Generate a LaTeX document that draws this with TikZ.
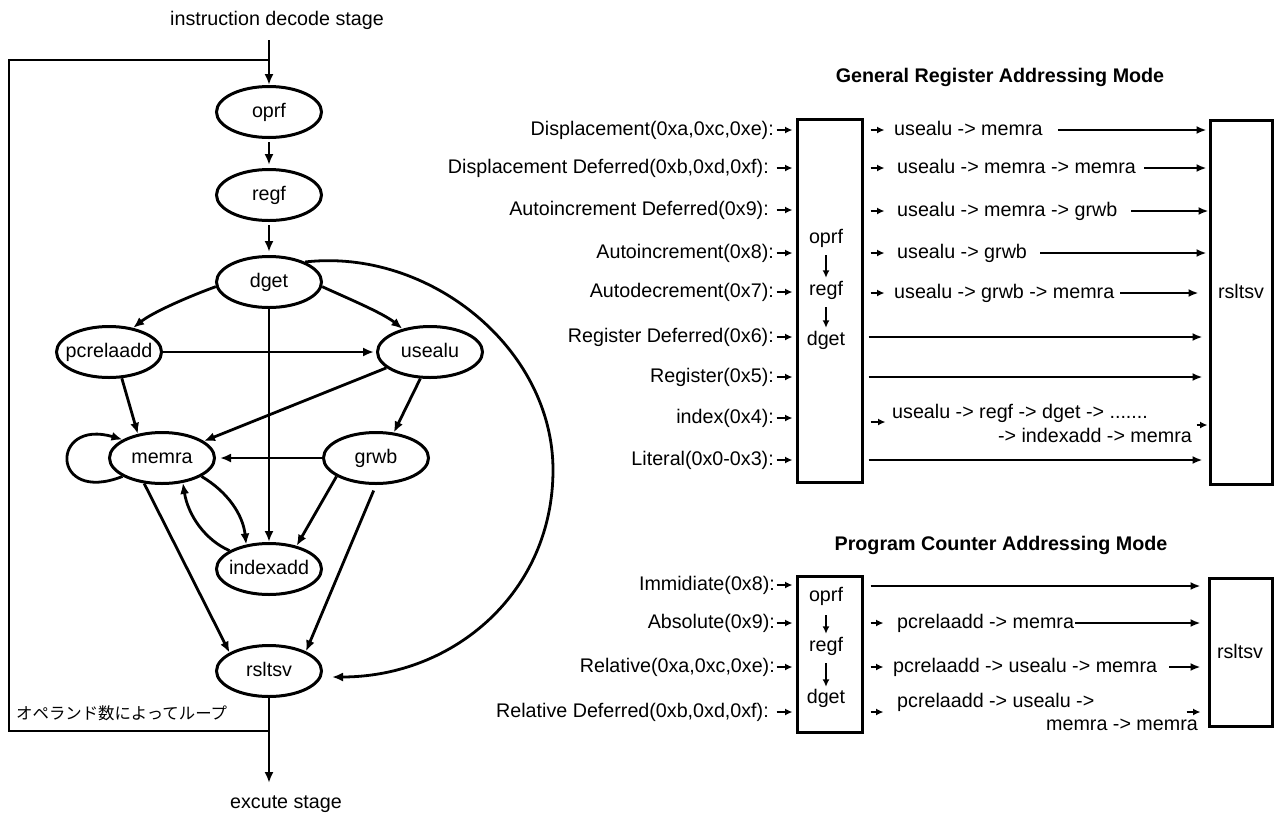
\documentclass[tikz,border=0pt]{standalone}
\usepackage{fontspec}
\setmainfont{Liberation Sans}
\newfontfamily\jpfont{Noto Sans CJK JP}
\usetikzlibrary{shapes.geometric,arrows.meta,calc}
\newcommand\mkz[1]{\makebox[0pt]{#1}}
\begin{document}
\begin{tikzpicture}[x=1pt,y=-1pt,
  txt/.style={inner sep=0pt, font=\fontsize{19.7}{22}\selectfont, text height=14pt, text depth=4pt},
  ttl/.style={inner sep=0pt, font=\bfseries\fontsize{19.7}{22}\selectfont},
  st/.style={txt, draw, ellipse, line width=3pt, minimum width=105pt, minimum height=51pt},
  ed/.style={line width=2.8pt, -{Latex[length=11pt,width=9pt]}},
  ln/.style={line width=2.8pt},
  sarr/.style={line width=2.6pt, -{Latex[length=7.5pt,width=7pt]}},
  larr/.style={line width=2.8pt, -{Latex[length=10pt,width=8pt]}},
  box/.style={draw, line width=3pt, inner sep=0pt}
]
\useasboundingbox (0,0) rectangle (1275,815);

% ---------------- left graph ----------------
\node[txt] (ids) at (277,20) {instruction decode stage};
\node[txt] (exs) at (286,803) {excute stage};
\coordinate (top) at (269,40);
\coordinate (lt) at (269,60);
\coordinate (ctl) at (9,60);
\coordinate (cbl) at (9,731);
\coordinate (lb) at (269,731);
\coordinate (bot) at (269,783);

\node[st] (oprf) at (269,112) {\mkz{oprf}};
\node[st] (regf) at (269,195) {\mkz{regf}};
\node[st] (dget) at (269,282) {\mkz{dget}};
\node[st] (pcrelaadd) at (109,352) {\mkz{pcrelaadd}};
\node[st] (usealu) at (430,352) {\mkz{usealu}};
\node[st] (memra) at (162,458) {\mkz{memra}};
\node[st] (grwb) at (376,458) {\mkz{grwb}};
\node[st] (indexadd) at (269,569) {\mkz{indexadd}};
\node[st] (rsltsv) at (269,671) {\mkz{rsltsv}};

\node[inner sep=0pt, anchor=west, font=\jpfont\fontsize{16.4}{18}\selectfont] (jp) at (16,713) {オペランド数によってループ};

\draw[ln] (lb) -- (cbl) -- (ctl) -- (lt);
\draw[ed] (top) -- (oprf);
\draw[ed, shorten <=3pt, shorten >=3pt] (oprf) -- (regf);
\draw[ed, shorten <=3pt, shorten >=3pt] (regf) -- (dget);
\draw[ed] (dget.185) .. controls (190,296) and (153,312) .. (pcrelaadd.45);
\draw[ed] (dget.-5) .. controls (347,298) and (383,313) .. (usealu.140);
\draw[ed] (dget) -- (indexadd);
\draw[ed, shorten >=2pt] (pcrelaadd) -- (usealu);
\draw[ed] (pcrelaadd.296) -- (memra.135);
\draw[ed] (usealu.200) -- (memra.22);
\draw[ed] (usealu.250) -- (grwb.55);
\draw[ed, shorten >=4pt] (grwb) -- (memra);
\draw[ed] (memra.205) .. controls (50,505) and (50,418) .. (memra.155);
\draw[ed] (memra.-25) .. controls (228,492) and (243,515) .. (indexadd.133);
\draw[ed] (indexadd.155) .. controls (205,540) and (188,515) .. (memra.-50);
\draw[ed] (grwb.205) -- (indexadd.40);
\draw[ed] (memra.235) -- (rsltsv.155);
\draw[ed, shorten <=6pt] (grwb.-90) -- (rsltsv.28);
\draw[ed] (dget.29) .. controls (429,248) and (553,348) .. (553,470)
  .. controls (553,592) and (454,677) .. ($(rsltsv.east)+(9,6)$);
\draw[ed] (rsltsv) -- (bot);

% ---------------- General Register Addressing Mode ----------------
\node[ttl] (gt) at (1000,77) {General Register Addressing Mode};
\node[box, minimum width=65pt, minimum height=363pt] (gbox) at (829.5,300.5) {};
\node[box, minimum width=62pt, minimum height=364pt] (rbox1) at (1241,302) {};
\node[txt] (g1) at (826,238) {oprf};
\node[txt] (g2) at (826,290) {regf};
\node[txt] (g3) at (826,340) {dget};
\draw[sarr, shorten <=8pt, shorten >=3pt] (g1) -- (g2);
\draw[sarr, shorten <=8pt, shorten >=3pt] (g2) -- (g3);
\node[txt] (r1) at (1241,293) {rsltsv};

\node[txt, anchor=east] (gl1) at (774,130) {Displacement(0xa,0xc,0xe):};
\node[txt, anchor=east] (gl2) at (769,168) {Displacement Deferred(0xb,0xd,0xf):};
\node[txt, anchor=east] (gl3) at (769,210) {Autoincrement Deferred(0x9):};
\node[txt, anchor=east] (gl4) at (774,253) {Autoincrement(0x8):};
\node[txt, anchor=east] (gl5) at (774,292) {Autodecrement(0x7):};
\node[txt, anchor=east] (gl6) at (774,337) {Register Deferred(0x6):};
\node[txt, anchor=east] (gl7) at (774,377) {Register(0x5):};
\node[txt, anchor=east] (gl8) at (774,418) {index(0x4):};
\node[txt, anchor=east] (gl9) at (774,460) {Literal(0x0-0x3):};
\foreach \n in {gl1,gl2,gl3,gl4,gl5,gl6,gl7,gl8,gl9}{
  \draw[sarr, shorten >=3pt] ($(gbox.west |- \n.east)+(-19,0)$) -- (gbox.west |- \n.east);
}

\node[txt, anchor=west] (o1) at (894,130) {usealu -> memra};
\node[txt, anchor=west] (o2) at (897,168) {usealu -> memra -> memra};
\node[txt, anchor=west] (o3) at (897,211) {usealu -> memra -> grwb};
\node[txt, anchor=west] (o4) at (897,253) {usealu -> grwb};
\node[txt, anchor=west] (o5) at (894,293) {usealu -> grwb -> memra};
\foreach \n in {o1,o2,o3,o4,o5}{
  \draw[sarr] ($(gbox.east |- \n.west)+(7,0)$) -- ++(14,0);
}
\draw[larr, shorten >=2pt] ($(o1.east)+(15,0)$) -- (rbox1.west |- o1.east);
\draw[larr, shorten >=2pt] ($(o2.east)+(8,0)$) -- (rbox1.west |- o2.east);
\draw[larr] ($(o3.east)+(14,0)$) -- (rbox1.west |- o3.east);
\draw[larr, shorten >=2pt] ($(o4.east)+(13,0)$) -- (rbox1.west |- o4.east);
\draw[larr, shorten >=10pt] ($(o5.east)+(6,0)$) -- (rbox1.west |- o5.east);
\foreach \n in {gl6,gl7,gl9}{
  \draw[larr, shorten >=6pt] ($(gbox.east |- \n.east)+(5,0)$) -- (rbox1.west |- \n.east);
}
\node[txt, anchor=west] (o8a) at (892,413) {usealu -> regf -> dget -> .......};
\node[txt, anchor=east] (o8b) at (1192,437) {-> indexadd -> memra};
\draw[sarr] ($(gbox.east |- gl8.east)+(7,4)$) -- ++(15,0);
\draw[sarr] ($(rbox1.west |- gl8.east)+(-12,7)$) -- ($(rbox1.west |- gl8.east)+(-1,7)$);

% ---------------- Program Counter Addressing Mode ----------------
\node[ttl] (pt) at (1001,545) {Program Counter Addressing Mode};
\node[box, minimum width=65pt, minimum height=156pt] (pbox) at (829.5,654) {};
\node[box, minimum width=63pt, minimum height=148pt] (rbox2) at (1240.5,652) {};
\node[txt] (p1) at (826,596) {oprf};
\node[txt] (p2) at (826,646) {regf};
\node[txt] (p3) at (826,698) {dget};
\draw[sarr, shorten <=10pt, shorten >=3pt] (p1) -- (p2);
\draw[sarr, shorten <=8pt, shorten >=2pt] (p2) -- (p3);
\node[txt] (r2) at (1240,653) {rsltsv};

\node[txt, anchor=east] (pl1) at (775,585) {Immidiate(0x8):};
\node[txt, anchor=east] (pl2) at (775,623) {Absolute(0x9):};
\node[txt, anchor=east] (pl3) at (775,667) {Relative(0xa,0xc,0xe):};
\node[txt, anchor=east] (pl4) at (769,712) {Relative Deferred(0xb,0xd,0xf):};
\foreach \n in {pl1,pl2,pl3,pl4}{
  \draw[sarr, shorten >=3pt] ($(pbox.west |- \n.east)+(-19,0)$) -- (pbox.west |- \n.east);
}
\draw[larr, shorten >=7pt] ($(pbox.east |- pl1.east)+(7,1)$) -- ($(rbox2.west |- pl1.east)+(0,1)$);
\node[txt, anchor=west] (q2) at (897,623) {pcrelaadd -> memra};
\node[txt, anchor=west] (q3) at (893,667) {pcrelaadd -> usealu -> memra};
\node[txt, anchor=west] (q4a) at (897,702) {pcrelaadd -> usealu ->};
\node[txt, anchor=east] (q4b) at (1198,725) {memra -> memra};
\foreach \n in {pl2,pl3,pl4}{
  \draw[sarr] ($(pbox.east |- \n.east)+(7,0)$) -- ++(13,0);
}
\draw[larr, shorten >=7pt] ($(q2.east)+(1,0)$) -- (rbox2.west |- q2.east);
\draw[larr, shorten >=7pt] ($(q3.east)+(12,0)$) -- (rbox2.west |- q3.east);
\draw[sarr, shorten >=7pt] ($(rbox2.west |- pl4.east)+(-21,0)$) -- (rbox2.west |- pl4.east);
\end{tikzpicture}
\end{document}
